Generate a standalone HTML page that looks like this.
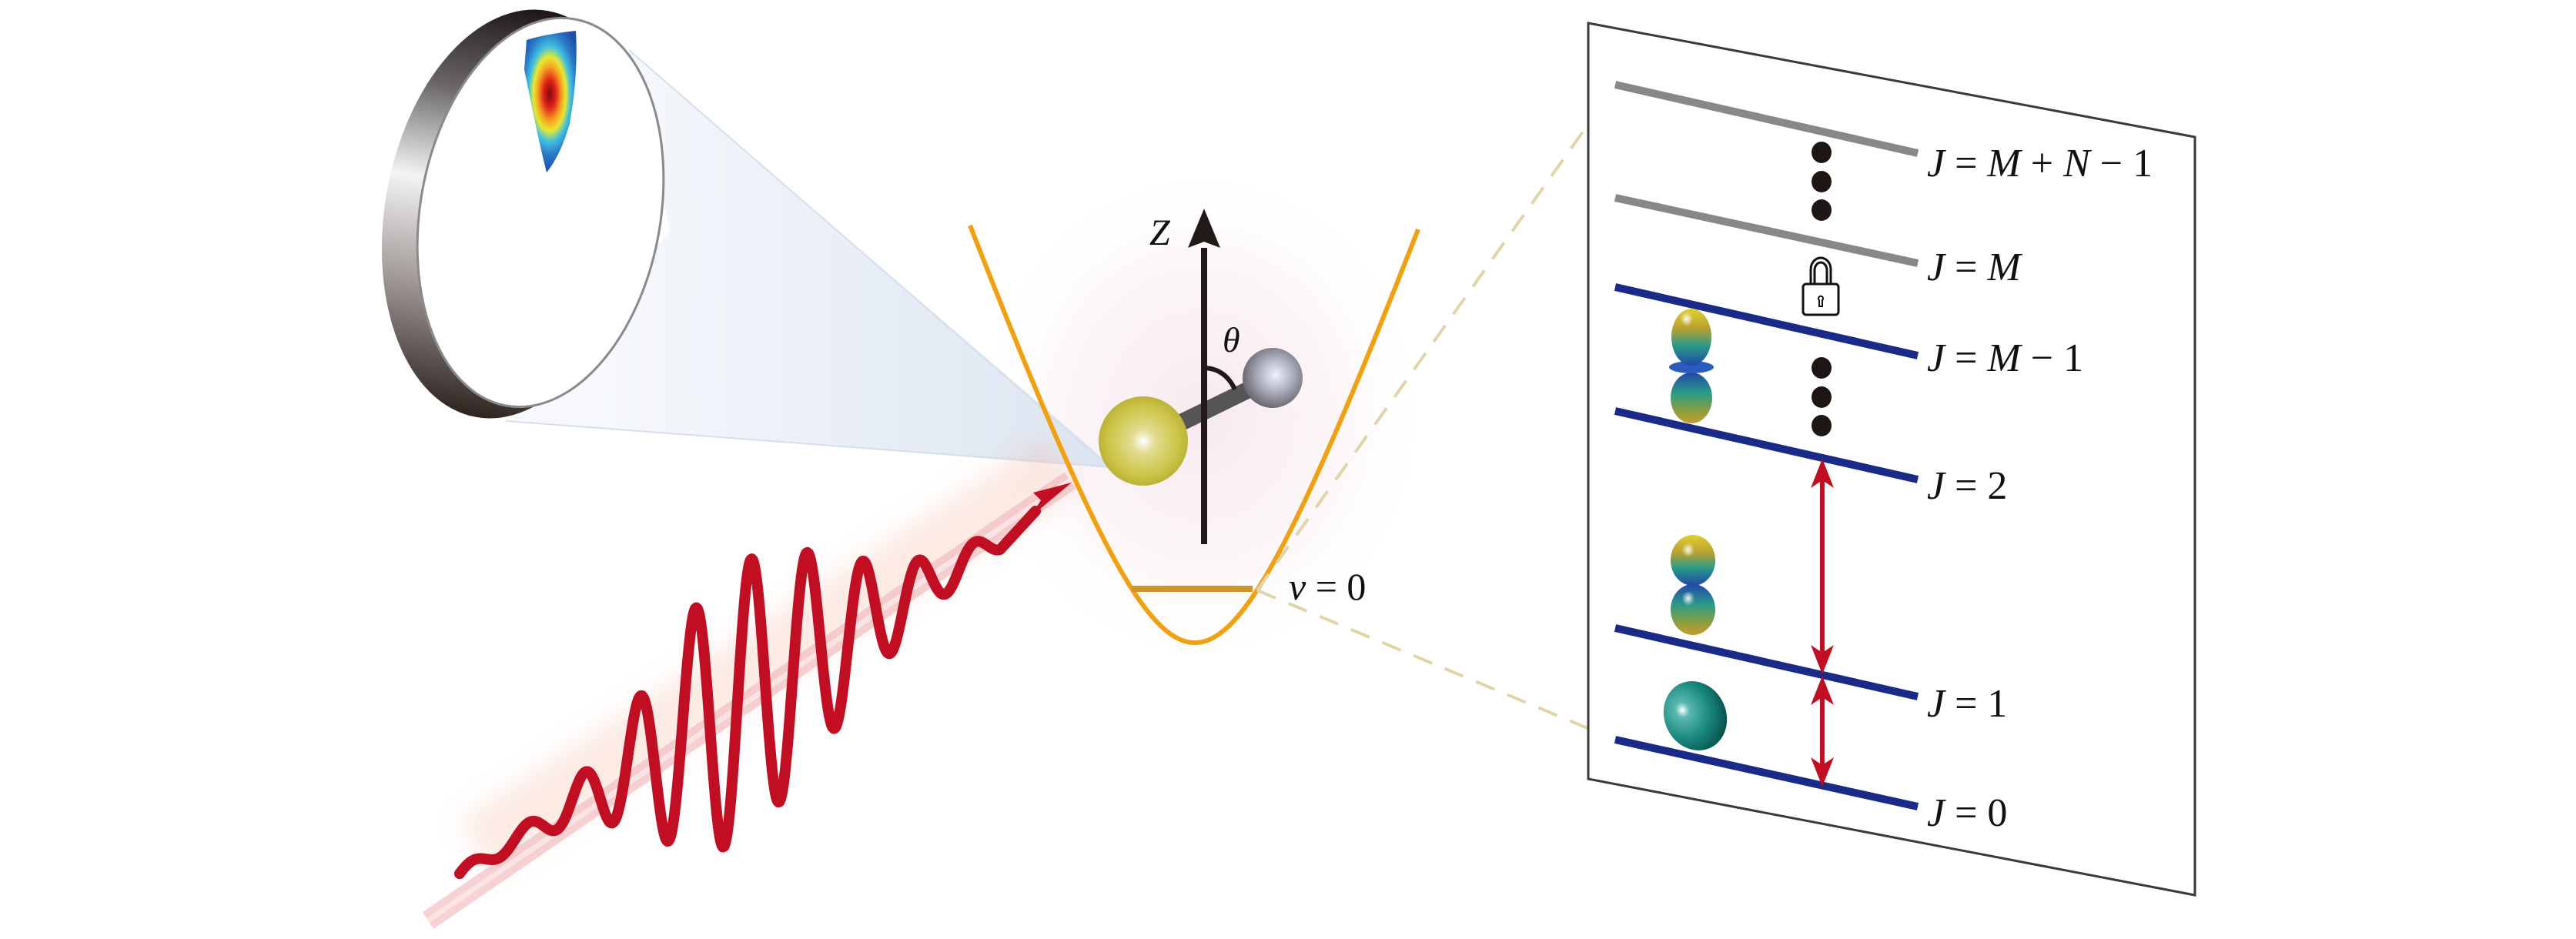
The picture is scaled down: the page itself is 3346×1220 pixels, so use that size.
<!DOCTYPE html>
<html><head><meta charset="utf-8"><style>
html,body{margin:0;padding:0;background:#fff;}
svg{display:block;}
text{font-family:"Liberation Serif","Times New Roman",serif;fill:#111;}
</style></head><body>
<svg id="s" width="3346" height="1220" viewBox="0 0 3346 1220" xmlns="http://www.w3.org/2000/svg">
<defs>
 <radialGradient id="pinkglow" cx="1560" cy="540" r="300" gradientUnits="userSpaceOnUse" gradientTransform="translate(1560 540) scale(1 1.1) translate(-1560 -540)">
  <stop offset="0" stop-color="#f3dbe4" stop-opacity="0.6"/>
  <stop offset="0.6" stop-color="#f7e8ee" stop-opacity="0.4"/>
  <stop offset="1" stop-color="#fff" stop-opacity="0"/>
 </radialGradient>
 <linearGradient id="cone" x1="780" y1="0" x2="1440" y2="0" gradientUnits="userSpaceOnUse">
  <stop offset="0" stop-color="#f6f8fc"/>
  <stop offset="1" stop-color="#dce5f1"/>
 </linearGradient>
 <linearGradient id="rim" x1="0" y1="10" x2="0" y2="545" gradientUnits="userSpaceOnUse">
  <stop offset="0" stop-color="#1e1616"/>
  <stop offset="0.22" stop-color="#6a6666"/>
  <stop offset="0.45" stop-color="#f4f4f4"/>
  <stop offset="0.72" stop-color="#9a9290"/>
  <stop offset="1" stop-color="#2e2420"/>
 </linearGradient>
 <radialGradient id="heat" cx="714" cy="122" r="80" gradientUnits="userSpaceOnUse" gradientTransform="translate(714 122) scale(0.55 1.25) translate(-714 -122)">
  <stop offset="0" stop-color="#7a0a10"/>
  <stop offset="0.18" stop-color="#e0201a"/>
  <stop offset="0.35" stop-color="#f5a020"/>
  <stop offset="0.48" stop-color="#e8e830"/>
  <stop offset="0.62" stop-color="#40c0e0"/>
  <stop offset="0.8" stop-color="#2a78c8"/>
  <stop offset="1" stop-color="#1c50a8"/>
 </radialGradient>
 <radialGradient id="yball" cx="0.5" cy="0.5" r="0.55">
  <stop offset="0" stop-color="#ffffff"/>
  <stop offset="0.25" stop-color="#e0dc90"/>
  <stop offset="0.7" stop-color="#cdc548"/>
  <stop offset="1" stop-color="#b3ac30"/>
 </radialGradient>
 <radialGradient id="gball" cx="0.55" cy="0.45" r="0.6">
  <stop offset="0" stop-color="#eef0ff"/>
  <stop offset="0.4" stop-color="#b8bac8"/>
  <stop offset="1" stop-color="#5e5e66"/>
 </radialGradient>
 <radialGradient id="teal" cx="0.35" cy="0.35" r="0.75">
  <stop offset="0" stop-color="#ffffff"/>
  <stop offset="0.15" stop-color="#5ab8b0"/>
  <stop offset="0.55" stop-color="#1a8a80"/>
  <stop offset="1" stop-color="#054a44"/>
 </radialGradient>
 <linearGradient id="lobeTop" x1="0" y1="0" x2="0" y2="1">
  <stop offset="0" stop-color="#e0d030"/>
  <stop offset="0.35" stop-color="#b8a030"/>
  <stop offset="0.65" stop-color="#2a9a88"/>
  <stop offset="1" stop-color="#2048a8"/>
 </linearGradient>
 <linearGradient id="lobeBot" x1="0" y1="0" x2="0" y2="1">
  <stop offset="0" stop-color="#2048a8"/>
  <stop offset="0.4" stop-color="#2a9a88"/>
  <stop offset="0.75" stop-color="#8aa040"/>
  <stop offset="1" stop-color="#c89a30"/>
 </linearGradient>
 <radialGradient id="hl" cx="0.45" cy="0.3" r="0.35">
  <stop offset="0" stop-color="#fff" stop-opacity="0.9"/>
  <stop offset="1" stop-color="#fff" stop-opacity="0"/>
 </radialGradient>
 <filter id="blur12" x="-50%" y="-50%" width="200%" height="200%"><feGaussianBlur stdDeviation="16"/></filter>
</defs>

<ellipse cx="1560" cy="540" rx="300" ry="330" fill="url(#pinkglow)"/>

<!-- cone -->
<polygon points="817,65 1440,602 1440,608 657,547 870,300" fill="url(#cone)"/>
<line x1="817" y1="65" x2="1438" y2="604" stroke="#d6dfec" stroke-width="2"/>
<line x1="657" y1="547" x2="1438" y2="606" stroke="#d6dfec" stroke-width="2"/>

<!-- disc -->
<ellipse cx="665" cy="278" rx="165" ry="268" transform="rotate(10 665 278)" fill="url(#rim)"/>
<ellipse cx="702" cy="276" rx="156" ry="255" transform="rotate(10 702 276)" fill="#fff" stroke="#8a8a8a" stroke-width="3"/>
<path d="M684,52 C706,45 730,42 748,40 C750,75 748,115 740,160 C732,190 720,212 710,224 C700,185 690,135 681,90 Z" fill="url(#heat)"/>

<!-- beam glow -->
<g filter="url(#blur12)">
 <path d="M620,1100 L1380,600" stroke="#f4b49a" stroke-opacity="0.28" stroke-width="80" fill="none"/>
</g>
<line x1="556" y1="1196" x2="1390" y2="624" stroke="#f0b4b8" stroke-width="26" stroke-opacity="0.6"/>
<line x1="556" y1="1196" x2="1390" y2="624" stroke="#fbe6e8" stroke-width="7" stroke-opacity="0.9"/>

<path id="wave" d="" stroke="#c20e22" stroke-width="14" fill="none" stroke-linecap="round" stroke-linejoin="round"/>
<polygon points="1392,627 1342,640 1352,650 1338,672" fill="#c20e22"/>

<path id="para" d="" stroke="#f0a010" stroke-width="6" fill="none"/>
<line x1="1470" y1="765" x2="1627" y2="765" stroke="#d49528" stroke-width="8"/>

<line x1="1633" y1="767" x2="2098" y2="112" stroke="#e0d4a8" stroke-width="4" stroke-dasharray="26,18"/>
<line x1="1633" y1="767" x2="2098" y2="961" stroke="#e0d4a8" stroke-width="4" stroke-dasharray="26,18"/>

<line x1="1485" y1="573" x2="1653" y2="491" stroke="#555" stroke-width="22"/>
<line x1="1564" y1="322" x2="1564" y2="707" stroke="#221a18" stroke-width="8"/>
<polygon points="1564,271 1543,322 1564,314 1585,322" fill="#221a18"/>
<path d="M1566,478 Q1592,480 1604,506" stroke="#221a18" stroke-width="6" fill="none"/>
<circle cx="1485" cy="573" r="58" fill="url(#yball)"/>
<circle cx="1653" cy="491" r="39" fill="url(#gball)"/>
<text x="1493" y="318" font-size="48" font-style="italic" font-family="Liberation Serif, serif">Z</text>
<text x="1588" y="457" font-size="46" font-style="italic" font-family="Liberation Serif, serif">θ</text>
<text x="1674" y="779" font-size="50" font-family="Liberation Serif, serif"><tspan font-style="italic">ν</tspan> = 0</text>

<polygon points="2063,30 2851,178 2851,1163 2063,1012" fill="#fff" stroke="#3a3a3a" stroke-width="3"/>
<g stroke-width="10">
 <line x1="2098" y1="110" x2="2491" y2="199" stroke="#888"/>
 <line x1="2098" y1="257" x2="2491" y2="342" stroke="#888"/>
 <line x1="2098" y1="373" x2="2491" y2="462" stroke="#1a2a88"/>
 <line x1="2098" y1="534" x2="2491" y2="623" stroke="#1a2a88"/>
 <line x1="2098" y1="816" x2="2491" y2="905" stroke="#1a2a88"/>
 <line x1="2098" y1="961" x2="2491" y2="1048" stroke="#1a2a88"/>
</g>
<g fill="#1e1614">
 <ellipse cx="2366" cy="198" rx="13" ry="14"/>
 <ellipse cx="2366" cy="236" rx="13" ry="14"/>
 <ellipse cx="2366" cy="273" rx="13" ry="14"/>
 <ellipse cx="2366" cy="478" rx="13" ry="14"/>
 <ellipse cx="2366" cy="516" rx="13" ry="14"/>
 <ellipse cx="2366" cy="553" rx="13" ry="14"/>
</g>
<g stroke="#111" stroke-width="3" fill="#fff">
 <path d="M2352,370 L2352,350 A13,15 0 0 1 2378,350 L2378,370" fill="none"/>
 <path d="M2357,370 L2357,351 A8,10 0 0 1 2373,351 L2373,370" fill="none"/>
 <rect x="2342" y="369" width="46" height="40" rx="4"/>
 <path d="M2363,390 A3,3 0 1 1 2367,390 L2367,398 L2363,398 Z" fill="#fff" stroke-width="2"/>
</g>
<g fill="#c20e22">
 <line x1="2367" y1="620" x2="2367" y2="852" stroke="#c20e22" stroke-width="6"/>
 <polygon points="2367,596 2352,634 2367,624 2382,634"/>
 <polygon points="2367,876 2352,838 2367,848 2382,838"/>
 <line x1="2367" y1="902" x2="2367" y2="998" stroke="#c20e22" stroke-width="6"/>
 <polygon points="2367,878 2352,916 2367,906 2382,916"/>
 <polygon points="2367,1022 2352,984 2367,994 2382,984"/>
</g>
<ellipse cx="2197" cy="517" rx="27" ry="33" fill="url(#lobeBot)"/>
<ellipse cx="2197" cy="477" rx="29" ry="8" fill="#2a5cc0"/>
<ellipse cx="2197" cy="438" rx="26" ry="37" fill="url(#lobeTop)"/>
<ellipse cx="2192" cy="420" rx="12" ry="14" fill="url(#hl)"/>
<ellipse cx="2199" cy="792" rx="29" ry="33" fill="url(#lobeBot)"/>
<ellipse cx="2199" cy="728" rx="29" ry="33" fill="url(#lobeTop)"/>
<ellipse cx="2194" cy="720" rx="12" ry="14" fill="url(#hl)"/>
<ellipse cx="2194" cy="783" rx="12" ry="14" fill="url(#hl)"/>
<ellipse cx="2202" cy="930" rx="40" ry="46" transform="rotate(-25 2202 930)" fill="url(#teal)"/>

<g font-size="52" font-family="Liberation Serif, serif">
 <text x="2503" y="229"><tspan font-style="italic">J</tspan> = <tspan font-style="italic">M</tspan> + <tspan font-style="italic">N</tspan> − 1</text>
 <text x="2503" y="364"><tspan font-style="italic">J</tspan> = <tspan font-style="italic">M</tspan></text>
 <text x="2503" y="482"><tspan font-style="italic">J</tspan> = <tspan font-style="italic">M</tspan> − 1</text>
 <text x="2503" y="648"><tspan font-style="italic">J</tspan> = 2</text>
 <text x="2503" y="931"><tspan font-style="italic">J</tspan> = 1</text>
 <text x="2503" y="1073"><tspan font-style="italic">J</tspan> = 0</text>
</g>
</svg>
<script>
(function(){
 var d="",first=true;
 for(var x=597;x<=1300;x+=1.5){
  var base=915-0.62*(x-955);
  var dx=x-955, sg=dx<0?100:130;
  var A=170*Math.exp(-dx*dx/(2*sg*sg))+8;
  var y=base-A*Math.cos(2*Math.PI*(x-976)/72.7);
  d+=(first?"M":"L")+x.toFixed(1)+","+y.toFixed(1);first=false;
 }
 d+="L1345,664";
 document.getElementById("wave").setAttribute("d",d);
 var p="",f=true;
 for(var x=1260;x<=1843;x+=2){
  var dx=x-1552, y=835-2.77*(Math.sqrt(120*120+dx*dx)-120);
  p+=(f?"M":"L")+x+","+y.toFixed(1);f=false;
 }
 document.getElementById("para").setAttribute("d",p);
})();
</script>
</body></html>
